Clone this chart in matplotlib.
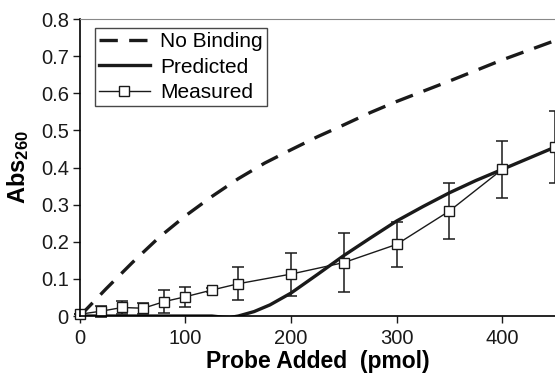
import numpy as np
import matplotlib.pyplot as plt

plt.rcParams['font.family'] = ['Liberation Sans', 'DejaVu Sans']
plt.rcParams['mathtext.fontset'] = 'custom'
plt.rcParams['mathtext.rm'] = 'Liberation Sans'
plt.rcParams['mathtext.bf'] = 'Liberation Sans:bold'

# No Binding curve
nb_x = [0, 25, 50, 75, 100, 125, 150, 175, 200, 225, 250, 275, 300, 350, 400, 450]
nb_y = [0, 0.074, 0.145, 0.212, 0.27, 0.322, 0.37, 0.412, 0.448, 0.483, 0.515,
        0.548, 0.578, 0.633, 0.69, 0.742]

# Predicted curve
pr_x = [0, 50, 100, 125, 135, 142, 150, 165, 180, 200, 225, 250, 275, 300,
        325, 350, 375, 400, 425, 450]
pr_y = [0, 0, 0, 0, -0.003, -0.004, 0.0, 0.012, 0.03, 0.062, 0.112, 0.163,
        0.21, 0.256, 0.295, 0.332, 0.365, 0.395, 0.425, 0.455]

# Measured points with error bars
ms_x = [0, 20, 40, 60, 80, 100, 125, 150, 200, 250, 300, 350, 400, 450]
ms_y = [0.005, 0.013, 0.023, 0.021, 0.039, 0.052, 0.07, 0.087, 0.113, 0.144,
        0.193, 0.283, 0.395, 0.456]
ms_err = [0.0, 0.015, 0.017, 0.015, 0.03, 0.027, 0.005, 0.045, 0.058, 0.08,
          0.06, 0.076, 0.076, 0.097]

fig = plt.figure(figsize=(5.55, 3.74), dpi=100)
ax = fig.add_axes([0.144, 0.155, 0.856, 0.794])

ink = '#1a1a1a'
ax.plot(nb_x, nb_y, color=ink, lw=2.4, dashes=(5.5, 3.4), label='No Binding')
ax.plot(pr_x, pr_y, color=ink, lw=2.4, label='Predicted')
ax.errorbar(ms_x, ms_y, yerr=ms_err, fmt='none', ecolor=ink, elinewidth=1.1,
            capsize=4, capthick=1.1, clip_on=False)
ax.plot(ms_x, ms_y, color=ink, lw=1.0, marker='s', ms=7.5, mfc='white',
        mec=ink, mew=1.0, label='Measured', clip_on=False)

ax.set_xlim(0, 450)
ax.set_ylim(0, 0.8)
ax.set_xticks([0, 100, 200, 300, 400])
ax.set_yticks(np.arange(0, 0.81, 0.1))
ax.set_yticklabels(['0', '0.1', '0.2', '0.3', '0.4', '0.5', '0.6', '0.7', '0.8'])
ax.tick_params(direction='out', length=5, width=1, labelsize=14.5, colors=ink)
ax.tick_params(axis='x', pad=4)
ax.tick_params(axis='y', pad=3)

ax.spines['right'].set_visible(False)
ax.spines['top'].set_color('#888888')
ax.spines['left'].set_linewidth(1.2)
ax.spines['bottom'].set_linewidth(1.2)

ax.set_xlabel('Probe Added  (pmol)', fontsize=16.5, fontweight='bold', labelpad=2)
ax.set_ylabel(r'$\mathbf{Abs_{260}}$', fontsize=17, labelpad=7)

leg = ax.legend(loc='upper left', bbox_to_anchor=(0.018, 0.99), fontsize=15,
                frameon=True, fancybox=False, handlelength=2.45, borderpad=0.2,
                labelspacing=0.3, handletextpad=0.5, borderaxespad=0.3)
leg.get_frame().set_edgecolor(ink)
leg.get_frame().set_linewidth(1.0)

fig.savefig('out.png', dpi=100)
